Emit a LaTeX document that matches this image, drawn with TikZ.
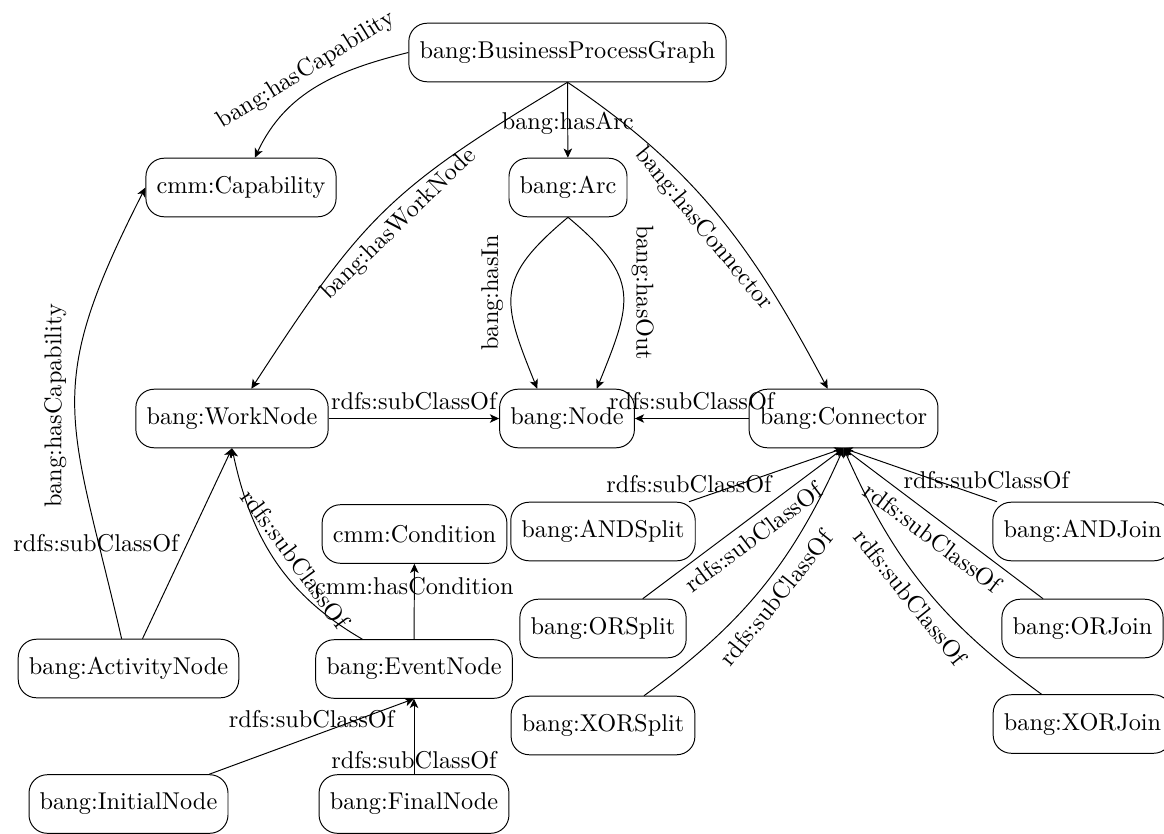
\documentclass[tikz,border=0pt]{standalone}
\usetikzlibrary{arrows.meta}
\begin{document}
\begin{tikzpicture}[
  x=0.41152pt, y=0.41152pt,
  cls/.style={draw, rounded corners=7.5pt, minimum height=24.1pt, inner xsep=4.4pt},
  arr/.style={-{Stealth[length=3.8pt, width=3.5pt, inset=1pt]}},
  lbl/.style={inner sep=3.33pt}
]
\useasboundingbox (0,0) rectangle (1164,-833);

% classes
\node[cls] (bpg)      at (567.5,-52.5) {bang:BusinessProcessGraph};
\node[cls] (cap)      at (241,-187.5)  {cmm:Capability};
\node[cls] (arc)      at (568,-187.5)  {bang:Arc};
\node[cls] (work)     at (232,-418.5)  {bang:WorkNode};
\node[cls] (nodecls)  at (567,-418.5)  {bang:Node};
\node[cls] (conn)     at (843.5,-418.5) {bang:Connector};
\node[cls] (cond)     at (414.5,-534)  {cmm:Condition};
\node[cls] (andsplit) at (603,-531.5)  {bang:ANDSplit};
\node[cls] (andjoin)  at (1082.5,-531.5) {bang:ANDJoin};
\node[cls] (orsplit)  at (603,-628.5)  {bang:ORSplit};
\node[cls] (orjoin)   at (1082.5,-628.5) {bang:ORJoin};
\node[cls] (act)      at (128.5,-668.5) {bang:ActivityNode};
\node[cls] (event)    at (414,-669)    {bang:EventNode};
\node[cls] (xorsplit) at (603,-725.5)  {bang:XORSplit};
\node[cls] (xorjoin)  at (1082.5,-724) {bang:XORJoin};
\node[cls] (initial)  at (128.5,-804)  {bang:InitialNode};
\node[cls] (final)    at (414,-804)    {bang:FinalNode};

% properties of the process graph
\draw[arr] (bpg.west) to[out=194, in=65]
  node[lbl, sloped, above, pos=0.5] {bang:hasCapability} (cap);
\draw[arr] (bpg.south) -- node[lbl, pos=0.55] {bang:hasArc} (arc);
\draw[arr] (bpg.south) to[out=211, in=57, looseness=1.2]
  node[lbl, sloped, below, pos=0.5] {bang:hasWorkNode} (work);
\draw[arr] (bpg.south) to[out=-34, in=118]
  node[lbl, sloped, below, pos=0.5] {bang:hasConnector} (conn);

% arcs
\draw[arr] (arc.south) to[out=-140, in=112, looseness=1.4]
  node[lbl, rotate=90, anchor=south, pos=0.5] {bang:hasIn} (nodecls.135);
\draw[arr] (arc.south) to[out=-40, in=68, looseness=1.4]
  node[lbl, rotate=-90, anchor=south, pos=0.5] {bang:hasOut} (nodecls.45);

% node hierarchy
\draw[arr] (work) -- node[lbl, above] {rdfs:subClassOf} (nodecls);
\draw[arr] (conn) -- node[lbl, above] {rdfs:subClassOf} (nodecls);
\draw[arr] (act) -- node[lbl, left] {rdfs:subClassOf} (work.south);
\draw[arr] (act) to[out=103, in=243, looseness=1.3]
  node[lbl, rotate=90, anchor=south, pos=0.5] {bang:hasCapability} (cap.west);
\draw[arr] (event) to[out=150, in=-78]
  node[lbl, sloped, above, pos=0.45] {rdfs:subClassOf} (work.south);
\draw[arr] (event) -- node[lbl, pos=0.7] {cmm:hasCondition} (cond);
\draw[arr] (initial) -- node[lbl, above] {rdfs:subClassOf} (event.south);
\draw[arr] (final) -- node[lbl, pos=0.18] {rdfs:subClassOf} (event.south);

% connector hierarchy
\draw[arr] (andsplit) -- node[lbl, above, pos=0] {rdfs:subClassOf} (conn.south);
\draw[arr] (orsplit) -- node[lbl, sloped, below] {rdfs:subClassOf} (conn.south);
\draw[arr] (xorsplit) to[out=36, in=-114]
  node[lbl, sloped, below] {rdfs:subClassOf} (conn.south);
\draw[arr] (andjoin) -- node[lbl, above, pos=0.07] {rdfs:subClassOf} (conn.south);
\draw[arr] (orjoin) -- node[lbl, sloped, below] {rdfs:subClassOf} (conn.south);
\draw[arr] (xorjoin) to[out=144, in=-66]
  node[lbl, sloped, below] {rdfs:subClassOf} (conn.south);
\end{tikzpicture}
\end{document}
